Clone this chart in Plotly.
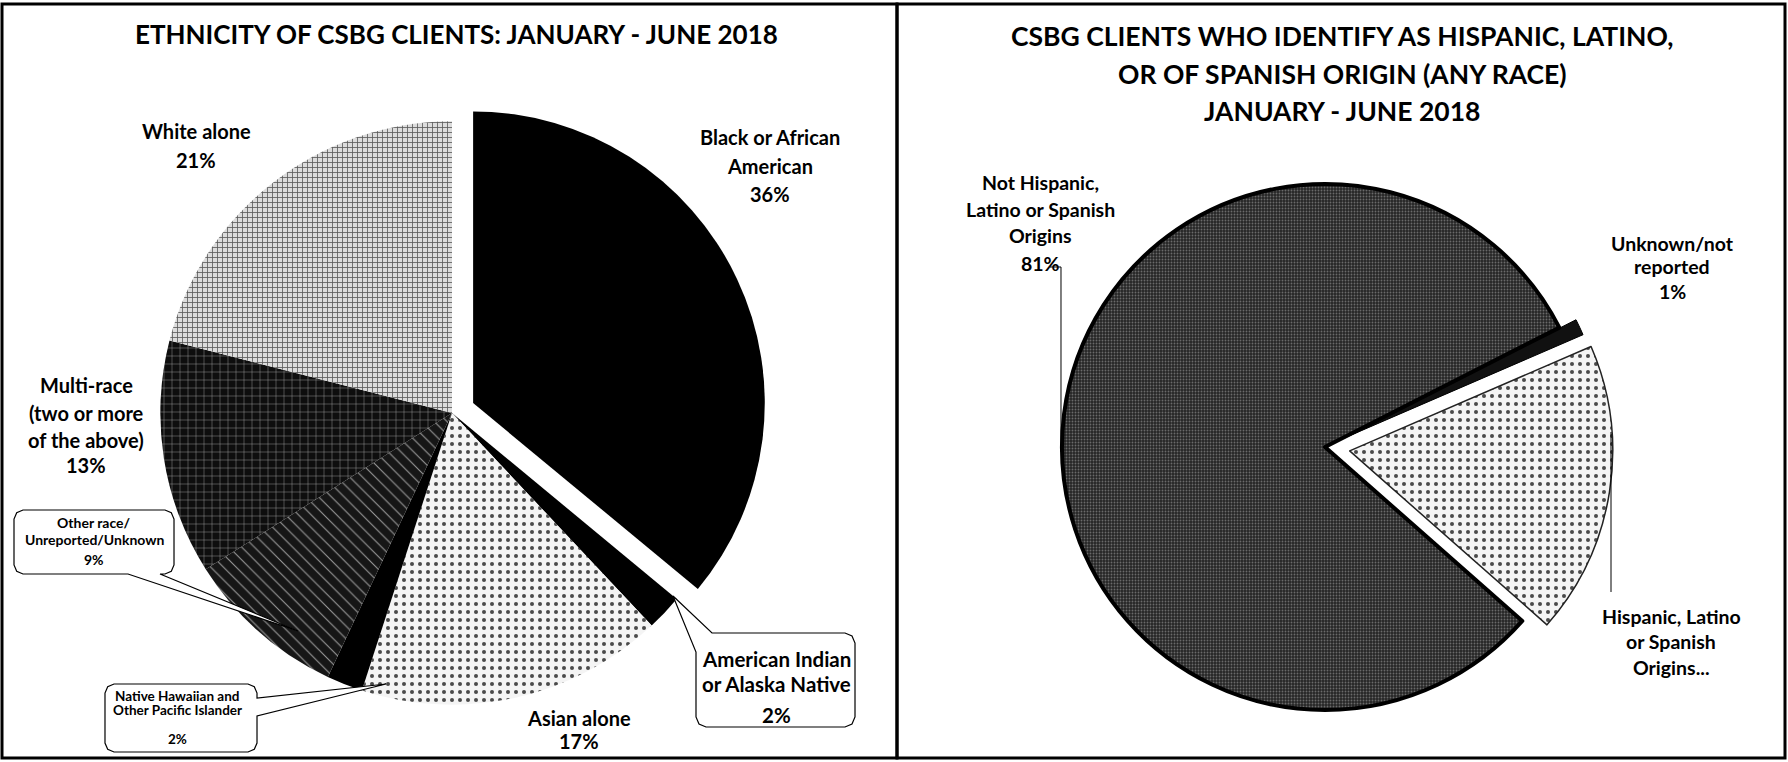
import plotly.graph_objects as go

W, H = 1788, 762

# Ethnicity of CSBG clients (percent), clockwise from 12 o'clock
eth_labels = [
    "Black or African American",
    "American Indian or Alaska Native",
    "Asian alone",
    "Native Hawaiian and Other Pacific Islander",
    "Other race/ Unreported/Unknown",
    "Multi-race (two or more of the above)",
    "White alone",
]
eth_pct = [36, 2, 17, 2, 9, 13, 21]
eth_pull = [0.08, 0, 0, 0, 0, 0, 0]

# Hispanic / Latino / Spanish origin (percent)
his_labels = [
    "Unknown/not reported",
    "Hispanic, Latino or Spanish Origins",
    "Not Hispanic, Latino or Spanish Origins",
]
his_pct = [1, 18, 81]
his_pull = [0.07, 0.095, 0]

FONT = "Lato"


def fx(x):
    return x / W


def fy(y):
    return 1 - y / H


fig = go.Figure()

eth_fill = ["#000000", "#000000", "#f4f4f4", "#000000", "#161616", "#0e0e0e", "#dcdcdc"]
fig.add_trace(go.Pie(
    labels=eth_labels, values=eth_pct, sort=False, direction="clockwise",
    rotation=0, pull=eth_pull, textinfo="none", showlegend=False,
    domain=dict(x=[fx(137), fx(767)], y=[fy(728), fy(98)]),
    marker=dict(
        colors=eth_fill,
        line=dict(color="#ffffff", width=0),
        pattern=dict(
            shape=["", "", ".", "", "\\", "+", "+"],
            fgcolor=["#000", "#000", "#4a4a4a", "#000", "#9a9a9a", "#a8a8a8", "#5a5a5a"],
            bgcolor=eth_fill,
            size=[8, 8, 8, 8, 9, 8, 5],
            solidity=[0.3, 0.3, 0.2, 0.3, 0.12, 0.1, 0.3],
        ),
    ),
))

his_fill = ["#111111", "#f4f4f4", "#262626"]
fig.add_trace(go.Pie(
    labels=his_labels, values=his_pct, sort=False, direction="clockwise",
    rotation=63, pull=his_pull, textinfo="none", showlegend=False,
    domain=dict(x=[fx(1037), fx(1613)], y=[fy(735), fy(159)]),
    marker=dict(
        colors=his_fill,
        line=dict(color=["#000000", "#222222", "#000000"], width=[1, 1.5, 4]),
        pattern=dict(
            shape=["", ".", "."],
            fgcolor=["#000", "#4a4a4a", "#6a6a6a"],
            bgcolor=his_fill,
            size=[8, 8, 3],
            solidity=[0.3, 0.2, 0.3],
        ),
    ),
))

annotations = []


def text_lines(x, ys, lines, size):
    for y, t in zip(ys, lines):
        annotations.append(dict(
            x=fx(x), y=fy(y), xref="paper", yref="paper", text=t,
            showarrow=False, xanchor="center", yanchor="middle",
            font=dict(family=FONT, size=size, color="#000", weight=700),
        ))


def pct(v):
    return f"{v}%"


# titles
text_lines(456, [34], ["ETHNICITY OF CSBG CLIENTS: JANUARY - JUNE 2018"], 26)
text_lines(1342, [36, 74, 111], [
    "CSBG CLIENTS WHO IDENTIFY AS HISPANIC, LATINO,",
    "OR OF SPANISH ORIGIN (ANY RACE)",
    "JANUARY - JUNE 2018",
], 26.5)

# left pie labels
text_lines(770, [137, 166, 194], ["Black or African", "American", pct(eth_pct[0])], 20)
text_lines(196, [131, 160], ["White alone", pct(eth_pct[6])], 20)
text_lines(86, [385, 413, 440, 465], ["Multi-race", "(two or more", "of the above)", pct(eth_pct[5])], 20)
text_lines(579, [718, 741], ["Asian alone", pct(eth_pct[2])], 20)
text_lines(776, [659, 684, 715], ["American Indian", "or Alaska Native", pct(eth_pct[1])], 20.5)
text_lines(94, [522, 539, 559], ["Other race/", "Unreported/Unknown", pct(eth_pct[4])], 14)
text_lines(177, [696, 710, 739], ["Native Hawaiian and", "Other Pacific Islander", pct(eth_pct[3])], 13.5)

# right pie labels
text_lines(1040, [182, 209, 236, 263], ["Not Hispanic,", "Latino or Spanish", "Origins", pct(his_pct[2])], 19.5)
text_lines(1672, [243, 266, 291], ["Unknown/not", "reported", pct(his_pct[0])], 19.5)
text_lines(1671, [616, 641, 667], ["Hispanic, Latino", "or Spanish", "Origins..."], 19.5)


def path(points, close=True):
    s = "M " + " L ".join(f"{fx(x):.5f},{fy(y):.5f}" for x, y in points)
    return s + (" Z" if close else "")


def rounded(x0, y0, x1, y1, r, wedge_side=None, a=None, b=None, tip=None):
    """Rounded box with an optional pointer wedge on one side."""
    pts = []
    pts.append((x0 + r, y0))
    if wedge_side == "top":
        pts += [(a, y0), tip, (b, y0)]
    pts.append((x1 - r, y0))
    pts.append((x1 - r * 0.3, y0 + r * 0.3))
    pts.append((x1, y0 + r))
    if wedge_side == "right":
        pts += [(x1, a), tip, (x1, b)]
    pts.append((x1, y1 - r))
    pts.append((x1 - r * 0.3, y1 - r * 0.3))
    pts.append((x1 - r, y1))
    if wedge_side == "bottom":
        pts += [(b, y1), tip, (a, y1)]
    pts.append((x0 + r, y1))
    pts.append((x0 + r * 0.3, y1 - r * 0.3))
    pts.append((x0, y1 - r))
    if wedge_side == "left":
        pts += [(x0, b), tip, (x0, a)]
    pts.append((x0, y0 + r))
    pts.append((x0 + r * 0.3, y0 + r * 0.3))
    return path(pts)


shapes = []
callout_style = dict(type="path", xref="paper", yref="paper",
                     fillcolor="#ffffff", line=dict(color="#000000", width=1.2), layer="above")

# "Other race" callout, pointer down to the pie
shapes.append(dict(path=rounded(14, 510, 174, 574, 9, "bottom", 128, 160, (298, 631)), **callout_style))
# "Native Hawaiian" callout, pointer from the right side
shapes.append(dict(path=rounded(105, 684, 257, 752, 9, "right", 698, 716, (386, 684)), **callout_style))
# "American Indian" callout, pointer through the top-left corner
ax0, ay0, ax1, ay1, ar = 696, 633, 855, 727, 10
tip = (673, 596)
amind = [
    (712, ay0), (ax1 - ar, ay0), (ax1 - ar * 0.3, ay0 + ar * 0.3), (ax1, ay0 + ar),
    (ax1, ay1 - ar), (ax1 - ar * 0.3, ay1 - ar * 0.3), (ax1 - ar, ay1),
    (ax0 + ar, ay1), (ax0 + ar * 0.3, ay1 - ar * 0.3), (ax0, ay1 - ar),
    (ax0, 652), tip,
]
shapes.append(dict(path=path(amind), **callout_style))

# leader lines on the right pie
leader = dict(type="path", xref="paper", yref="paper", line=dict(color="#000", width=1), layer="above")
shapes.append(dict(path=path([(1050, 267), (1061, 267), (1061, 452)], close=False), **leader))
shapes.append(dict(path=path([(1611, 432), (1611, 592)], close=False), **leader))

# panel frames
frame = dict(type="rect", xref="paper", yref="paper", line=dict(color="#000", width=3), layer="above")
shapes.append(dict(x0=fx(2), x1=fx(897), y0=fy(758), y1=fy(4), **frame))
shapes.append(dict(x0=fx(897), x1=fx(1785), y0=fy(758), y1=fy(4), **frame))

fig.update_layout(
    width=W, height=H,
    margin=dict(l=0, r=0, t=0, b=0),
    paper_bgcolor="#ffffff", plot_bgcolor="#ffffff",
    annotations=annotations, shapes=shapes,
)

fig.write_html("out.html", config=dict(displayModeBar=False))
